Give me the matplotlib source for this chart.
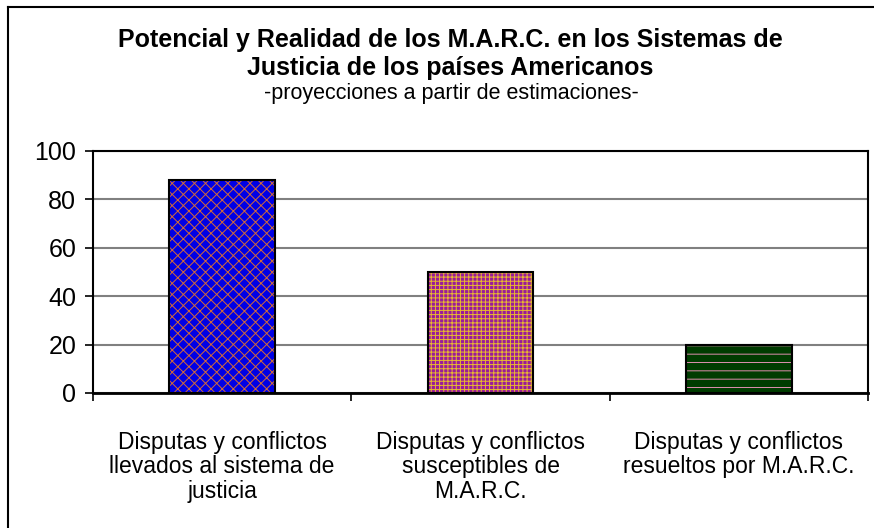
import matplotlib.pyplot as plt
from matplotlib.lines import Line2D

plt.rcParams['font.family'] = ['Liberation Sans', 'DejaVu Sans']
plt.rcParams['hatch.linewidth'] = 0.7

categorias = ["Disputas y conflictos\nllevados al sistema de\njusticia",
              "Disputas y conflictos\nsusceptibles de\nM.A.R.C.",
              "Disputas y conflictos\nresueltos por M.A.R.C."]
valores = [88, 50, 20]
colores = ["#0000e6", "#9a1a9a", "#003c00"]
tramas = ["#d06a3a", "#e8b830", "#e090b0"]
patrones = ["xxx", "++++", "--"]

fig = plt.figure(figsize=(8.74, 5.28), dpi=100)
ax = fig.add_axes([93/874, 1 - 393/528, (868-93)/874, (393-151)/528])

x = list(range(len(valores)))
ax.bar(x, valores, width=0.41, color=colores, linewidth=0, zorder=2)
for i, v in enumerate(valores):
    ax.bar(x[i], v, width=0.41, color="none", edgecolor=tramas[i],
           hatch=patrones[i], linewidth=0, zorder=3)
ax.bar(x, valores, width=0.41, color="none", edgecolor="black",
       linewidth=1.5, zorder=4)

ax.set_xlim(-0.5, 2.5)
ax.set_ylim(0, 100)
ax.set_yticks([0, 20, 40, 60, 80, 100])
ax.yaxis.grid(True, color="#808080", linewidth=1.5, zorder=1)
ax.set_axisbelow(True)

ax.set_xticks(x)
ax.set_xticklabels(categorias, fontsize=16.5, linespacing=1.1)
ax.set_xticks([-0.5, 0.5, 1.5, 2.5], minor=True)
ax.tick_params(axis='x', which='major', length=0, pad=27)
ax.tick_params(axis='x', which='minor', length=6, width=1.2, direction='out')
ax.tick_params(axis='y', labelsize=18, length=6, width=1.2, pad=6)

for s in ax.spines.values():
    s.set_linewidth(1.5)
    s.set_color("black")
ax.spines['bottom'].set_linewidth(2)

fig.text(0.515, 1 - 54/528, "Potencial y Realidad de los M.A.R.C. en los Sistemas de\nJusticia de los países Americanos",
         ha='center', va='center', fontsize=18, fontweight='bold', linespacing=1.17)
fig.text(0.516, 1 - 93/528, "-proyecciones a partir de estimaciones-",
         ha='center', va='center', fontsize=15.5)

# marco exterior
fig.add_artist(Line2D([8/874, 1], [1 - 7/528, 1 - 7/528], color="black", linewidth=1.5))
fig.add_artist(Line2D([8/874, 8/874], [0, 1 - 7/528], color="black", linewidth=1.5))

fig.savefig("out.png", dpi=100)
